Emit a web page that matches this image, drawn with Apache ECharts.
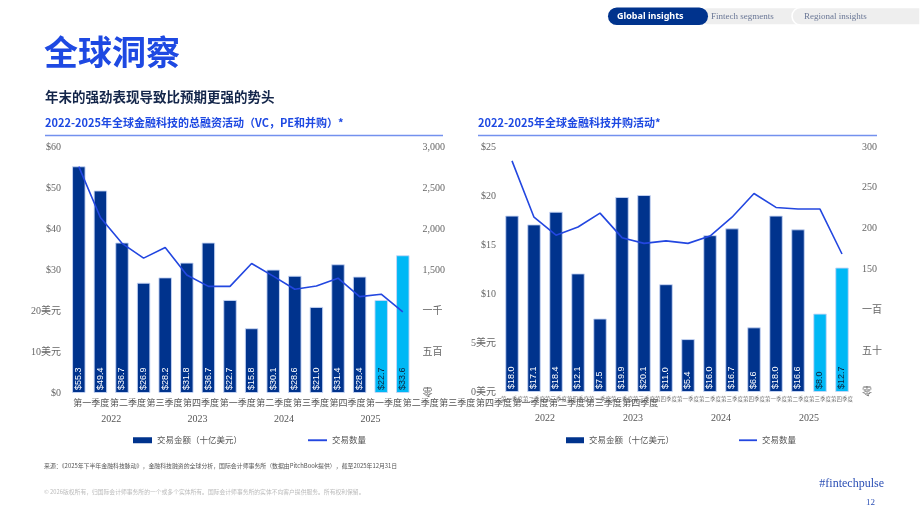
<!DOCTYPE html>
<html>
<head>
<meta charset="utf-8">
<script src="https://cdn.jsdelivr.net/npm/echarts@6/dist/echarts.min.js"></script>
<style>
html,body{margin:0;padding:0;background:#fff;}
#c{width:920px;height:518px;}
</style>
</head>
<body>
<div id="c"></div>
<script>
// ---- data ----
const years = ['2022', '2023', '2024', '2025'];
const quarters = ['第一季度', '第二季度', '第三季度', '第四季度'];
const totalValue = [55.3, 49.4, 36.7, 26.9, 28.2, 31.8, 36.7, 22.7, 15.8, 30.1, 28.6, 21.0, 31.4, 28.4, 22.7, 33.6];
const totalCount = [2760, 2140, 1825, 1645, 1775, 1440, 1300, 1300, 1580, 1425, 1265, 1305, 1400, 1175, 1205, 990];
const maValue = [18.0, 17.1, 18.4, 12.1, 7.5, 19.9, 20.1, 11.0, 5.4, 16.0, 16.7, 6.6, 18.0, 16.6, 8.0, 12.7];
const maCount = [283, 214, 192, 202, 219, 189, 182, 185, 182, 191, 214, 243, 226, 224, 224, 169];
const leftValTicks = ['$0', '10美元', '20美元', '$30', '$40', '$50', '$60'];
const leftCntTicks = ['零', '五百', '一千', '1,500', '2,000', '2,500', '3,000'];
const rightValTicks = ['0美元', '5美元', '$10', '$15', '$20', '$25'];
const rightCntTicks = ['零', '五十', '一百', '150', '200', '250', '300'];
const seriesNames = ['交易金额（十亿美元）', '交易数量'];
const highlightFrom = 14;

const categories = [];
years.forEach(y => quarters.forEach(q => categories.push(q)));

// ---- styles ----
const NAVY = '#00338D', CYAN = '#00B8F5', LINE = '#2347E0', BLUE = '#1E49E2';
const SERIF = "'Liberation Serif','Noto Sans CJK SC',serif";
const SANS = "'Noto Sans CJK SC','Noto Sans',sans-serif";

const chart = echarts.init(document.getElementById('c'), null, {renderer: 'canvas'});

function barSeries(name, data, xi, yi) {
  return {
    name: name, type: 'bar', xAxisIndex: xi, yAxisIndex: yi, barWidth: 13.5,
    data: data.map((v, i) => ({value: v, label: {color: i >= highlightFrom ? '#0C233C' : '#ffffff'}})),
    itemStyle: {
      color: p => p.dataIndex >= highlightFrom ? CYAN : NAVY,
      borderColor: 'rgba(200,214,245,0.9)', borderWidth: 1
    },
    label: {
      show: true, position: 'insideBottom', rotate: 90, align: 'left', verticalAlign: 'middle',
      distance: 3, fontSize: 9, fontFamily: "'Liberation Sans',Arial,sans-serif",
      formatter: p => '$' + p.value.toFixed(1)
    },
    z: 2
  };
}
function lineSeries(name, data, xi, yi) {
  return {
    name: name, type: 'line', xAxisIndex: xi, yAxisIndex: yi, data: data,
    symbol: 'none', lineStyle: {color: LINE, width: 1.6}, itemStyle: {color: LINE}, z: 3
  };
}

const hiddenLine = {show: false};
const axisLblBase = {color: '#666', fontFamily: SERIF, fontSize: 10};
const legendData = [
  {name: seriesNames[0], icon: 'rect', itemStyle: {color: NAVY, borderWidth: 0}},
  {name: seriesNames[1], icon: 'path://M0 0H18V1.8H0Z', itemStyle: {color: LINE, borderWidth: 0}}
];

const option = {
  animation: false,
  backgroundColor: '#ffffff',
  grid: [
    {left: 68, width: 345.6, top: 147, height: 246},
    {left: 501, width: 352, top: 147, height: 245},
    {left: 73, width: 585.6, top: 147, height: 246}
  ],
  xAxis: [
    {type: 'category', gridIndex: 0, data: categories, axisLine: hiddenLine, axisTick: hiddenLine, axisLabel: {show: false}},
    {type: 'category', gridIndex: 0, data: years, position: 'bottom', axisLine: hiddenLine, axisTick: hiddenLine,
      axisLabel: {margin: 21, color: '#555', fontSize: 10, fontFamily: SERIF}},
    {type: 'category', gridIndex: 1, data: categories, axisLine: hiddenLine, axisTick: hiddenLine,
      axisLabel: {interval: 0, margin: 4, color: '#777', fontSize: 5.5, fontFamily: SANS}},
    {type: 'category', gridIndex: 1, data: years, position: 'bottom', axisLine: hiddenLine, axisTick: hiddenLine,
      axisLabel: {margin: 21, color: '#555', fontSize: 10, fontFamily: SERIF}},
    {type: 'category', gridIndex: 2, data: categories, axisLine: hiddenLine, axisTick: hiddenLine,
      axisLabel: {interval: 0, margin: 5, color: '#555', fontSize: 9, fontFamily: SANS}}
  ],
  yAxis: [
    {type: 'value', gridIndex: 0, min: 0, max: 60, interval: 10, splitLine: hiddenLine, axisLine: hiddenLine,
      axisLabel: Object.assign({margin: 7, formatter: v => leftValTicks[Math.round(v / 10)]}, axisLblBase)},
    {type: 'value', gridIndex: 0, min: 0, max: 3000, interval: 500, position: 'right', splitLine: hiddenLine, axisLine: hiddenLine,
      axisLabel: Object.assign({margin: 9, formatter: v => leftCntTicks[Math.round(v / 500)]}, axisLblBase)},
    {type: 'value', gridIndex: 1, min: 0, max: 25, interval: 5, splitLine: hiddenLine, axisLine: hiddenLine,
      axisLabel: Object.assign({margin: 5, formatter: v => rightValTicks[Math.round(v / 5)]}, axisLblBase)},
    {type: 'value', gridIndex: 1, min: 0, max: 300, interval: 50, position: 'right', splitLine: hiddenLine, axisLine: hiddenLine,
      axisLabel: Object.assign({margin: 9, formatter: v => rightCntTicks[Math.round(v / 50)]}, axisLblBase)},
    {type: 'value', gridIndex: 2, show: false, min: 0, max: 1}
  ],
  legend: [
    {left: 133, top: 436, padding: 0, itemWidth: 19, itemHeight: 6, itemGap: 66, data: legendData,
      textStyle: {color: '#555', fontSize: 8.5, fontFamily: SANS}},
    {left: 566, top: 436, padding: 0, itemWidth: 18, itemHeight: 6, itemGap: 65, data: legendData,
      textStyle: {color: '#555', fontSize: 8.5, fontFamily: SANS}}
  ],
  series: [
    barSeries(seriesNames[0], totalValue, 0, 0),
    lineSeries(seriesNames[1], totalCount, 0, 1),
    barSeries(seriesNames[0], maValue, 2, 2),
    lineSeries(seriesNames[1], maCount, 2, 3)
  ],
  graphic: [
    // header tabs
    {type: 'rect', shape: {x: 699, y: 7.5, width: 221, height: 17.5, r: [9, 0, 0, 9]}, style: {fill: '#EEEEEE', stroke: '#ffffff', lineWidth: 1.5}},
    {type: 'rect', shape: {x: 792, y: 7.5, width: 128, height: 17.5, r: [9, 0, 0, 9]}, style: {fill: '#EEEEEE', stroke: '#ffffff', lineWidth: 1.5}},
    {type: 'rect', shape: {x: 608, y: 7.5, width: 100, height: 17.5, r: 9}, style: {fill: NAVY}},
    {type: 'text', x: 617, y: 16.5, style: {text: 'Global insights', fill: '#fff', font: "bold 9px 'Noto Sans', sans-serif", verticalAlign: 'middle'}},
    {type: 'text', x: 711, y: 16.5, style: {text: 'Fintech segments', fill: '#6A7796', font: "9px " + SERIF, verticalAlign: 'middle'}},
    {type: 'text', x: 804, y: 16.5, style: {text: 'Regional insights', fill: '#6A7796', font: "9px " + SERIF, verticalAlign: 'middle'}},
    // titles
    {type: 'text', x: 44, y: 52, style: {text: '全球洞察', fill: BLUE, font: "bold 34px 'Noto Sans CJK SC'", verticalAlign: 'middle'}},
    {type: 'text', x: 45, y: 97, style: {text: '年末的强劲表现导致比预期更强的势头', fill: '#14264A', font: "bold 13.5px 'Noto Sans CJK SC'", verticalAlign: 'middle'}},
    {type: 'text', x: 45, y: 123, style: {text: '2022-2025年全球金融科技的总融资活动（VC，PE和并购）*', fill: BLUE, font: "bold 11px 'Noto Sans CJK SC'", verticalAlign: 'middle'}},
    {type: 'line', shape: {x1: 45, y1: 135.5, x2: 443, y2: 135.5}, style: {stroke: '#7391EE', lineWidth: 1.5}},
    {type: 'text', x: 478, y: 123, style: {text: '2022-2025年全球金融科技并购活动*', fill: BLUE, font: "bold 11px 'Noto Sans CJK SC'", verticalAlign: 'middle'}},
    {type: 'line', shape: {x1: 478, y1: 135.5, x2: 877, y2: 135.5}, style: {stroke: '#7391EE', lineWidth: 1.5}},
    // footer
    {type: 'text', x: 44, y: 466, style: {text: '来源：《2025年下半年金融科技脉动》，金融科技融资的全球分析，国际会计师事务所（数据由PitchBook提供），截至2025年12月31日', fill: '#555', font: "5.9px 'Noto Sans CJK SC'", verticalAlign: 'middle'}},
    {type: 'text', x: 44, y: 492, style: {text: '© 2026版权所有，归国际会计师事务所的一个或多个实体所有。国际会计师事务所的实体不向客户提供服务。所有权利保留。', fill: '#BBBBBB', font: "5.8px 'Noto Sans CJK SC'", verticalAlign: 'middle'}},
    {type: 'text', x: 884, y: 484, style: {text: '#fintechpulse', fill: '#2B4FB5', font: "12px " + SERIF, align: 'right', verticalAlign: 'middle'}},
    {type: 'text', x: 875, y: 503, style: {text: '12', fill: '#2B4FB5', font: "9px " + SERIF, align: 'right', verticalAlign: 'middle'}}
  ]
};
chart.setOption(option);
</script>
</body>
</html>
